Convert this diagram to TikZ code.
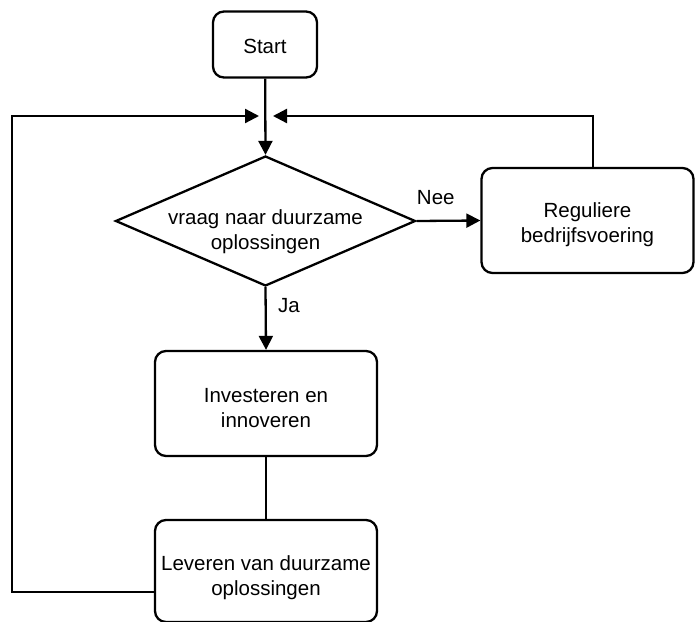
\documentclass[tikz,border=0pt]{standalone}
\usepackage{fontspec}
\setmainfont{Liberation Sans}
\usetikzlibrary{arrows.meta,shapes.geometric}
\begin{document}
\begin{tikzpicture}[x=1pt,y=-1pt,
  every node/.style={font=\fontsize{20.5}{25}\selectfont, align=center},
  proc/.style={draw, line width=2.3pt, rounded corners=11pt, inner sep=0pt},
  flow/.style={line width=2.3pt, -{Triangle[length=14pt,width=14pt]}},
  plain/.style={line width=2.3pt}]
\useasboundingbox (0,0) rectangle (695,621);
% shapes
\node[proc, minimum width=104pt, minimum height=66pt] (start) at (265,44.5) {};
\node[draw, line width=2.3pt, diamond, aspect=2.3, inner sep=0pt,
      minimum width=300pt, minimum height=130pt] (vraag) at (265.5,221) {};
\node[proc, minimum width=212pt, minimum height=105pt] (regulier) at (587.5,220.5) {};
\node[proc, minimum width=222pt, minimum height=105pt] (invest) at (266,403.5) {};
\node[proc, minimum width=222pt, minimum height=102pt] (lever) at (266,571) {};
% texts inside the shapes
\node (startT) at ([yshift=-2pt]start.center) {Start};
\node (vraagT) at ([yshift=-10.5pt]vraag.center) {vraag naar duurzame\\oplossingen};
\node (regulierT) at ([yshift=-4.5pt]regulier.center) {Reguliere\\bedrijfsvoering};
\node (investT) at ([yshift=-4.5pt]invest.center) {Investeren en\\innoveren};
\node (leverT) at ([yshift=-6.5pt]lever.center) {Leveren van duurzame\\oplossingen};
% junction points of the feedback loops
\coordinate (inL) at (259,116);
\coordinate (inR) at (273,116);
\coordinate (cornL1) at (12,592);
\coordinate (cornL2) at (12,116);
\coordinate (cornR) at (593,116);
% connectors
\draw[flow] (start) -- (vraag.north);
\draw[flow] (vraag.east) -- node[above, pos=0.3, yshift=12pt] {Nee} (regulier.west);
\draw[flow] (vraag.south) -- node[right, pos=0.3, xshift=8pt] {Ja} (invest.north);
\draw[plain] (invest.south) -- (lever.north);
\draw[flow] (lever.west |- cornL1) -- (cornL1) -- (cornL2) -- (inL);
\draw[flow] (regulier.north -| cornR) -- (cornR) -- (inR);
\end{tikzpicture}
\end{document}
